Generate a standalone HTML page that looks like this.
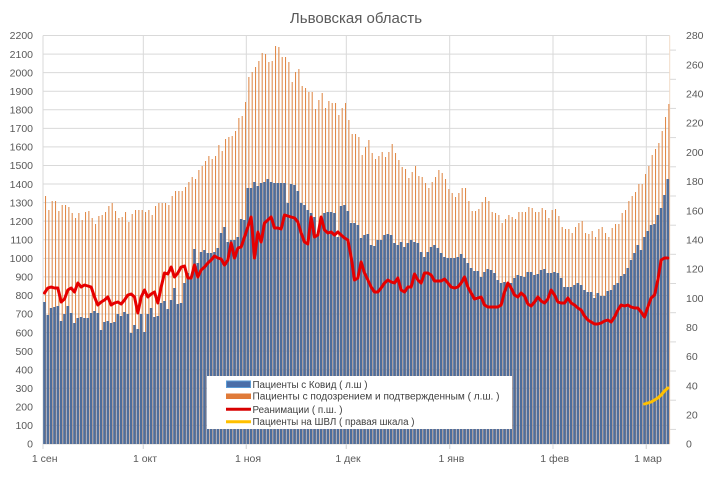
<!DOCTYPE html>
<html><head><meta charset="utf-8"><style>
html,body{margin:0;padding:0;background:#fff;}
svg{display:block;font-family:"Liberation Sans",Arial,sans-serif;}
</style></head><body>
<svg width="713" height="477" viewBox="0 0 713 477" xmlns="http://www.w3.org/2000/svg">
<rect width="713" height="477" fill="#fff"/>
<text x="356" y="23" font-size="15" fill="#595959" text-anchor="middle">Львовская область</text>
<g stroke="#d9d9d9" stroke-width="1">
<line x1="43" x2="669.7" y1="444" y2="444"/>
<line x1="43" x2="669.7" y1="425.43" y2="425.43"/>
<line x1="43" x2="669.7" y1="406.86" y2="406.86"/>
<line x1="43" x2="669.7" y1="388.3" y2="388.3"/>
<line x1="43" x2="669.7" y1="369.73" y2="369.73"/>
<line x1="43" x2="669.7" y1="351.16" y2="351.16"/>
<line x1="43" x2="669.7" y1="332.59" y2="332.59"/>
<line x1="43" x2="669.7" y1="314.02" y2="314.02"/>
<line x1="43" x2="669.7" y1="295.45" y2="295.45"/>
<line x1="43" x2="669.7" y1="276.89" y2="276.89"/>
<line x1="43" x2="669.7" y1="258.32" y2="258.32"/>
<line x1="43" x2="669.7" y1="239.75" y2="239.75"/>
<line x1="43" x2="669.7" y1="221.18" y2="221.18"/>
<line x1="43" x2="669.7" y1="202.61" y2="202.61"/>
<line x1="43" x2="669.7" y1="184.05" y2="184.05"/>
<line x1="43" x2="669.7" y1="165.48" y2="165.48"/>
<line x1="43" x2="669.7" y1="146.91" y2="146.91"/>
<line x1="43" x2="669.7" y1="128.34" y2="128.34"/>
<line x1="43" x2="669.7" y1="109.77" y2="109.77"/>
<line x1="43" x2="669.7" y1="91.2" y2="91.2"/>
<line x1="43" x2="669.7" y1="72.64" y2="72.64"/>
<line x1="43" x2="669.7" y1="54.07" y2="54.07"/>
<line x1="43" x2="669.7" y1="35.5" y2="35.5"/>
<line x1="43" x2="43" y1="35.5" y2="449"/>
<line x1="143.3" x2="143.3" y1="35.5" y2="449"/>
<line x1="246.3" x2="246.3" y1="35.5" y2="449"/>
<line x1="346.3" x2="346.3" y1="35.5" y2="449"/>
<line x1="449.7" x2="449.7" y1="35.5" y2="449"/>
<line x1="553" x2="553" y1="35.5" y2="449"/>
<line x1="646.3" x2="646.3" y1="35.5" y2="449"/>
</g>
<g stroke="#d9d9d9" stroke-width="1">
<line x1="669.7" x2="676" y1="429.4" y2="429.4"/>
<line x1="669.7" x2="676" y1="400.2" y2="400.2"/>
<line x1="669.7" x2="676" y1="371" y2="371"/>
<line x1="669.7" x2="676" y1="341.9" y2="341.9"/>
<line x1="669.7" x2="676" y1="312.7" y2="312.7"/>
<line x1="669.7" x2="676" y1="283.5" y2="283.5"/>
<line x1="669.7" x2="676" y1="254.3" y2="254.3"/>
<line x1="669.7" x2="676" y1="225.2" y2="225.2"/>
<line x1="669.7" x2="676" y1="196" y2="196"/>
<line x1="669.7" x2="676" y1="166.8" y2="166.8"/>
<line x1="669.7" x2="676" y1="137.6" y2="137.6"/>
<line x1="669.7" x2="676" y1="108.4" y2="108.4"/>
<line x1="669.7" x2="676" y1="79.3" y2="79.3"/>
<line x1="669.7" x2="676" y1="50.1" y2="50.1"/>
</g>
<line x1="669.7" x2="669.7" y1="35.5" y2="444" stroke="#f2dcc8" stroke-width="1"/>

<g transform="translate(43,0) scale(3.33333,1)">
<path fill="#e08a4a" d="M0.6 196h.32V444h-.32zM1.6 210h.32V444h-.32zM2.6 201h.32V444h-.32zM3.6 201h.32V444h-.32zM4.6 211h.32V444h-.32zM5.6 205h.32V444h-.32zM6.6 205h.32V444h-.32zM7.6 207h.32V444h-.32zM8.6 213h.32V444h-.32zM9.6 218h.32V444h-.32zM10.6 213h.32V444h-.32zM11.6 220h.32V444h-.32zM12.6 212h.32V444h-.32zM13.6 211h.32V444h-.32zM14.6 218h.32V444h-.32zM15.6 224h.32V444h-.32zM16.6 216h.32V444h-.32zM17.6 215h.32V444h-.32zM18.6 212h.32V444h-.32zM19.6 206h.32V444h-.32zM20.6 203h.32V444h-.32zM21.6 211h.32V444h-.32zM22.6 218h.32V444h-.32zM23.6 217h.32V444h-.32zM24.6 212h.32V444h-.32zM25.6 222h.32V444h-.32zM26.6 214h.32V444h-.32zM27.6 210h.32V444h-.32zM28.6 210h.32V444h-.32zM29.6 210h.32V444h-.32zM30.6 212h.32V444h-.32zM31.6 210h.32V444h-.32zM32.6 215h.32V444h-.32zM33.6 206h.32V444h-.32zM34.6 203h.32V444h-.32zM35.6 203h.32V444h-.32zM36.6 203h.32V444h-.32zM37.6 205h.32V444h-.32zM38.6 196h.32V444h-.32zM39.6 191h.32V444h-.32zM40.6 191h.32V444h-.32zM41.6 191h.32V444h-.32zM42.6 187h.32V444h-.32zM43.6 182h.32V444h-.32zM44.6 177h.32V444h-.32zM45.6 179h.32V444h-.32zM46.6 170h.32V444h-.32zM47.6 166h.32V444h-.32zM48.6 161h.32V444h-.32zM49.6 156h.32V444h-.32zM50.6 159h.32V444h-.32zM51.6 156h.32V444h-.32zM52.6 145h.32V444h-.32zM53.6 151h.32V444h-.32zM54.6 139h.32V444h-.32zM55.6 137h.32V444h-.32zM56.6 136h.32V444h-.32zM57.6 131h.32V444h-.32zM58.6 118h.32V444h-.32zM59.6 116h.32V444h-.32zM60.6 102h.32V444h-.32zM61.6 77h.32V444h-.32zM62.6 72h.32V444h-.32zM63.6 67h.32V444h-.32zM64.6 61h.32V444h-.32zM65.6 53h.32V444h-.32zM66.6 54h.32V444h-.32zM67.6 62h.32V444h-.32zM68.6 61h.32V444h-.32zM69.6 46h.32V444h-.32zM70.6 47h.32V444h-.32zM71.6 57h.32V444h-.32zM72.6 57h.32V444h-.32zM73.6 62h.32V444h-.32zM74.6 82h.32V444h-.32zM75.6 72h.32V444h-.32zM76.6 69h.32V444h-.32zM77.6 86h.32V444h-.32zM78.6 88h.32V444h-.32zM79.6 92h.32V444h-.32zM80.6 92h.32V444h-.32zM81.6 109h.32V444h-.32zM82.6 100h.32V444h-.32zM83.6 93h.32V444h-.32zM84.6 108h.32V444h-.32zM85.6 101h.32V444h-.32zM86.6 103h.32V444h-.32zM87.6 103h.32V444h-.32zM88.6 115h.32V444h-.32zM89.6 108h.32V444h-.32zM90.6 103h.32V444h-.32zM91.6 120h.32V444h-.32zM92.6 134h.32V444h-.32zM93.6 134h.32V444h-.32zM94.6 137h.32V444h-.32zM95.6 155h.32V444h-.32zM96.6 147h.32V444h-.32zM97.6 140h.32V444h-.32zM98.6 153h.32V444h-.32zM99.6 159h.32V444h-.32zM100.6 156h.32V444h-.32zM101.6 152h.32V444h-.32zM102.6 157h.32V444h-.32zM103.6 152h.32V444h-.32zM104.6 144h.32V444h-.32zM105.6 153h.32V444h-.32zM106.6 160h.32V444h-.32zM107.6 167h.32V444h-.32zM108.6 169h.32V444h-.32zM109.6 178h.32V444h-.32zM110.6 172h.32V444h-.32zM111.6 166h.32V444h-.32zM112.6 176h.32V444h-.32zM113.6 177h.32V444h-.32zM114.6 183h.32V444h-.32zM115.6 188h.32V444h-.32zM116.6 182h.32V444h-.32zM117.6 177h.32V444h-.32zM118.6 170h.32V444h-.32zM119.6 173h.32V444h-.32zM120.6 179h.32V444h-.32zM121.6 189h.32V444h-.32zM122.6 193h.32V444h-.32zM123.6 197h.32V444h-.32zM124.6 193h.32V444h-.32zM125.6 188h.32V444h-.32zM126.6 188h.32V444h-.32zM127.6 201h.32V444h-.32zM128.6 211h.32V444h-.32zM129.6 211h.32V444h-.32zM130.6 209h.32V444h-.32zM131.6 202h.32V444h-.32zM132.6 197h.32V444h-.32zM133.6 201h.32V444h-.32zM134.6 212h.32V444h-.32zM135.6 213h.32V444h-.32zM136.6 215h.32V444h-.32zM137.6 223h.32V444h-.32zM138.6 219h.32V444h-.32zM139.6 215h.32V444h-.32zM140.6 217h.32V444h-.32zM141.6 219h.32V444h-.32zM142.6 212h.32V444h-.32zM143.6 212h.32V444h-.32zM144.6 212h.32V444h-.32zM145.6 207h.32V444h-.32zM146.6 208h.32V444h-.32zM147.6 212h.32V444h-.32zM148.6 212h.32V444h-.32zM149.6 208h.32V444h-.32zM150.6 210h.32V444h-.32zM151.6 218h.32V444h-.32zM152.6 210h.32V444h-.32zM153.6 209h.32V444h-.32zM154.6 216h.32V444h-.32zM155.6 227h.32V444h-.32zM156.6 229h.32V444h-.32zM157.6 229h.32V444h-.32zM158.6 233h.32V444h-.32zM159.6 227h.32V444h-.32zM160.6 223h.32V444h-.32zM161.6 221h.32V444h-.32zM162.6 233h.32V444h-.32zM163.6 234h.32V444h-.32zM164.6 231h.32V444h-.32zM165.6 237h.32V444h-.32zM166.6 229h.32V444h-.32zM167.6 227h.32V444h-.32zM168.6 233h.32V444h-.32zM169.6 237h.32V444h-.32zM170.6 228h.32V444h-.32zM171.6 224h.32V444h-.32zM172.6 224h.32V444h-.32zM173.6 213h.32V444h-.32zM174.6 210h.32V444h-.32zM175.6 201h.32V444h-.32zM176.6 196h.32V444h-.32zM177.6 192h.32V444h-.32zM178.6 184h.32V444h-.32zM179.6 184h.32V444h-.32zM180.6 174h.32V444h-.32zM181.6 166h.32V444h-.32zM182.6 155h.32V444h-.32zM183.6 149h.32V444h-.32zM184.6 143h.32V444h-.32zM185.6 131h.32V444h-.32zM186.6 117h.32V444h-.32zM187.6 104h.32V444h-.32z"/>
<path fill="#4e6e9c" d="M0.05 302h.78V444h-.78zM1.05 315h.78V444h-.78zM2.05 308h.78V444h-.78zM3.05 307h.78V444h-.78zM4.05 306h.78V444h-.78zM5.05 321h.78V444h-.78zM6.05 314h.78V444h-.78zM7.05 306h.78V444h-.78zM8.05 313h.78V444h-.78zM9.05 323h.78V444h-.78zM10.05 318h.78V444h-.78zM11.05 317h.78V444h-.78zM12.05 318h.78V444h-.78zM13.05 318h.78V444h-.78zM14.05 313h.78V444h-.78zM15.05 311h.78V444h-.78zM16.05 313h.78V444h-.78zM17.05 330h.78V444h-.78zM18.05 322h.78V444h-.78zM19.05 321h.78V444h-.78zM20.05 323h.78V444h-.78zM21.05 322h.78V444h-.78zM22.05 314h.78V444h-.78zM23.05 316h.78V444h-.78zM24.05 312h.78V444h-.78zM25.05 314h.78V444h-.78zM26.05 333h.78V444h-.78zM27.05 325h.78V444h-.78zM28.05 329h.78V444h-.78zM29.05 314h.78V444h-.78zM30.05 332h.78V444h-.78zM31.05 314h.78V444h-.78zM32.05 308h.78V444h-.78zM33.05 317h.78V444h-.78zM34.05 316h.78V444h-.78zM35.05 303h.78V444h-.78zM36.05 301h.78V444h-.78zM37.05 309h.78V444h-.78zM38.05 300h.78V444h-.78zM39.05 288h.78V444h-.78zM40.05 304h.78V444h-.78zM41.05 303h.78V444h-.78zM42.05 283h.78V444h-.78zM43.05 273h.78V444h-.78zM44.05 278h.78V444h-.78zM45.05 249h.78V444h-.78zM46.05 263h.78V444h-.78zM47.05 252h.78V444h-.78zM48.05 250h.78V444h-.78zM49.05 253h.78V444h-.78zM50.05 253h.78V444h-.78zM51.05 252h.78V444h-.78zM52.05 248h.78V444h-.78zM53.05 233h.78V444h-.78zM54.05 227h.78V444h-.78zM55.05 242h.78V444h-.78zM56.05 240h.78V444h-.78zM57.05 240h.78V444h-.78zM58.05 237h.78V444h-.78zM59.05 219h.78V444h-.78zM60.05 220h.78V444h-.78zM61.05 188h.78V444h-.78zM62.05 188h.78V444h-.78zM63.05 182h.78V444h-.78zM64.05 186h.78V444h-.78zM65.05 183h.78V444h-.78zM66.05 182h.78V444h-.78zM67.05 179h.78V444h-.78zM68.05 182h.78V444h-.78zM69.05 183h.78V444h-.78zM70.05 183h.78V444h-.78zM71.05 183h.78V444h-.78zM72.05 183h.78V444h-.78zM73.05 203h.78V444h-.78zM74.05 184h.78V444h-.78zM75.05 185h.78V444h-.78zM76.05 191h.78V444h-.78zM77.05 203h.78V444h-.78zM78.05 205h.78V444h-.78zM79.05 210h.78V444h-.78zM80.05 213h.78V444h-.78zM81.05 217h.78V444h-.78zM82.05 235h.78V444h-.78zM83.05 223h.78V444h-.78zM84.05 213h.78V444h-.78zM85.05 212h.78V444h-.78zM86.05 212h.78V444h-.78zM87.05 213h.78V444h-.78zM88.05 237h.78V444h-.78zM89.05 206h.78V444h-.78zM90.05 205h.78V444h-.78zM91.05 211h.78V444h-.78zM92.05 223h.78V444h-.78zM93.05 223h.78V444h-.78zM94.05 225h.78V444h-.78zM95.05 238h.78V444h-.78zM96.05 235h.78V444h-.78zM97.05 234h.78V444h-.78zM98.05 245h.78V444h-.78zM99.05 246h.78V444h-.78zM100.05 240h.78V444h-.78zM101.05 240h.78V444h-.78zM102.05 235h.78V444h-.78zM103.05 234h.78V444h-.78zM104.05 235h.78V444h-.78zM105.05 243h.78V444h-.78zM106.05 245h.78V444h-.78zM107.05 242h.78V444h-.78zM108.05 247h.78V444h-.78zM109.05 243h.78V444h-.78zM110.05 240h.78V444h-.78zM111.05 242h.78V444h-.78zM112.05 243h.78V444h-.78zM113.05 252h.78V444h-.78zM114.05 257h.78V444h-.78zM115.05 252h.78V444h-.78zM116.05 247h.78V444h-.78zM117.05 245h.78V444h-.78zM118.05 248h.78V444h-.78zM119.05 253h.78V444h-.78zM120.05 257h.78V444h-.78zM121.05 258h.78V444h-.78zM122.05 258h.78V444h-.78zM123.05 258h.78V444h-.78zM124.05 257h.78V444h-.78zM125.05 254h.78V444h-.78zM126.05 258h.78V444h-.78zM127.05 263h.78V444h-.78zM128.05 268h.78V444h-.78zM129.05 271h.78V444h-.78zM130.05 271h.78V444h-.78zM131.05 277h.78V444h-.78zM132.05 272h.78V444h-.78zM133.05 269h.78V444h-.78zM134.05 270h.78V444h-.78zM135.05 273h.78V444h-.78zM136.05 280h.78V444h-.78zM137.05 283h.78V444h-.78zM138.05 282h.78V444h-.78zM139.05 283h.78V444h-.78zM140.05 283h.78V444h-.78zM141.05 278h.78V444h-.78zM142.05 275h.78V444h-.78zM143.05 276h.78V444h-.78zM144.05 277h.78V444h-.78zM145.05 272h.78V444h-.78zM146.05 272h.78V444h-.78zM147.05 275h.78V444h-.78zM148.05 274h.78V444h-.78zM149.05 270h.78V444h-.78zM150.05 269h.78V444h-.78zM151.05 273h.78V444h-.78zM152.05 273h.78V444h-.78zM153.05 272h.78V444h-.78zM154.05 273h.78V444h-.78zM155.05 278h.78V444h-.78zM156.05 287h.78V444h-.78zM157.05 287h.78V444h-.78zM158.05 287h.78V444h-.78zM159.05 285h.78V444h-.78zM160.05 283h.78V444h-.78zM161.05 285h.78V444h-.78zM162.05 290h.78V444h-.78zM163.05 292h.78V444h-.78zM164.05 292h.78V444h-.78zM165.05 298h.78V444h-.78zM166.05 293h.78V444h-.78zM167.05 296h.78V444h-.78zM168.05 296h.78V444h-.78zM169.05 291h.78V444h-.78zM170.05 290h.78V444h-.78zM171.05 285h.78V444h-.78zM172.05 283h.78V444h-.78zM173.05 276h.78V444h-.78zM174.05 274h.78V444h-.78zM175.05 268h.78V444h-.78zM176.05 260h.78V444h-.78zM177.05 253h.78V444h-.78zM178.05 245h.78V444h-.78zM179.05 250h.78V444h-.78zM180.05 237h.78V444h-.78zM181.05 231h.78V444h-.78zM182.05 225h.78V444h-.78zM183.05 224h.78V444h-.78zM184.05 215h.78V444h-.78zM185.05 208h.78V444h-.78zM186.05 195h.78V444h-.78zM187.05 179h.78V444h-.78z"/>
<polyline fill="none" stroke="#e60000" stroke-width="3" stroke-linejoin="round" stroke-linecap="round" vector-effect="non-scaling-stroke" points="0.45 293 1.45 288 2.45 287 3.45 288 4.45 288 5.45 302 6.45 299 7.45 290 8.45 288 9.45 292 10.45 283 11.45 287 12.45 285 13.45 286 14.45 287 15.45 297 16.45 305 17.45 302 18.45 300 19.45 297 20.45 305 21.45 303 22.45 302 23.45 304 24.45 300 25.45 295 26.45 294 27.45 297 28.45 313 29.45 297 30.45 290 31.45 297 32.45 294 33.45 292 34.45 303 35.45 287 36.45 273 37.45 274 38.45 267 39.45 277 40.45 273 41.45 267 42.45 266 43.45 278 44.45 278 45.45 265 46.45 277 47.45 270 48.45 267 49.45 263 50.45 260 51.45 256 52.45 258 53.45 259 54.45 265 55.45 260 56.45 243 57.45 258 58.45 248 59.45 247 60.45 237 61.45 227 62.45 217 63.45 258 64.45 232 65.45 242 66.45 223 67.45 220 68.45 217 69.45 228 70.45 228 71.45 229 72.45 215 73.45 216 74.45 217 75.45 218 76.45 222 77.45 233 78.45 242 79.45 244 80.45 217 81.45 237 82.45 235 83.45 217 84.45 230 85.45 233 86.45 232 87.45 235 88.45 232 89.45 235 90.45 238 91.45 240 92.45 257 93.45 280 94.45 278 95.45 262 96.45 273 97.45 280 98.45 287 99.45 292 100.45 292 101.45 288 102.45 283 103.45 280 104.45 282 105.45 283 106.45 278 107.45 290 108.45 292 109.45 287 110.45 287 111.45 274 112.45 280 113.45 283 114.45 273 115.45 273 116.45 275 117.45 281 118.45 281 119.45 281 120.45 279 121.45 283 122.45 287 123.45 288 124.45 287 125.45 283 126.45 277 127.45 287 128.45 293 129.45 299 130.45 298 131.45 297 132.45 305 133.45 307 134.45 307 135.45 307 136.45 307 137.45 305 138.45 292 139.45 283 140.45 288 141.45 295 142.45 297 143.45 293 144.45 296 145.45 304 146.45 306 147.45 302 148.45 297 149.45 301 150.45 303 151.45 299 152.45 290 153.45 295 154.45 302 155.45 303 156.45 303 157.45 298 158.45 303 159.45 305 160.45 308 161.45 310 162.45 316 163.45 320 164.45 322 165.45 324 166.45 324 167.45 323 168.45 321 169.45 320 170.45 322 171.45 317 172.45 310 173.45 305 174.45 306 175.45 305 176.45 307 177.45 308 178.45 308 179.45 312 180.45 317 181.45 307 182.45 298 183.45 295 184.45 280 185.45 260 186.45 258 187.45 258"/>
<polyline fill="none" stroke="#ffc000" stroke-width="3" stroke-linejoin="round" stroke-linecap="round" vector-effect="non-scaling-stroke" points="180.45 404 181.45 403 182.45 402 183.45 400 184.45 398 185.45 395 186.45 391 187.45 388"/>
</g>

<g stroke="#d9d9d9" stroke-width="1">
<line x1="43" x2="43" y1="444" y2="449"/>
<line x1="143.3" x2="143.3" y1="444" y2="449"/>
<line x1="246.3" x2="246.3" y1="444" y2="449"/>
<line x1="346.3" x2="346.3" y1="444" y2="449"/>
<line x1="449.7" x2="449.7" y1="444" y2="449"/>
<line x1="553" x2="553" y1="444" y2="449"/>
<line x1="646.3" x2="646.3" y1="444" y2="449"/>
</g>

<g font-size="10.5" fill="#595959" text-anchor="end">
<text x="33" y="447.7">0</text>
<text x="33" y="429.1">100</text>
<text x="33" y="410.6">200</text>
<text x="33" y="392">300</text>
<text x="33" y="373.4">400</text>
<text x="33" y="354.9">500</text>
<text x="33" y="336.3">600</text>
<text x="33" y="317.7">700</text>
<text x="33" y="299.2">800</text>
<text x="33" y="280.6">900</text>
<text x="33" y="262">1000</text>
<text x="33" y="243.5">1100</text>
<text x="33" y="224.9">1200</text>
<text x="33" y="206.3">1300</text>
<text x="33" y="187.8">1400</text>
<text x="33" y="169.2">1500</text>
<text x="33" y="150.6">1600</text>
<text x="33" y="132">1700</text>
<text x="33" y="113.5">1800</text>
<text x="33" y="94.9">1900</text>
<text x="33" y="76.3">2000</text>
<text x="33" y="57.8">2100</text>
<text x="33" y="39.2">2200</text>
</g>
<g font-size="10.5" fill="#595959" text-anchor="start">
<text x="686" y="447.7">0</text>
<text x="686" y="418.5">20</text>
<text x="686" y="389.3">40</text>
<text x="686" y="360.2">60</text>
<text x="686" y="331">80</text>
<text x="686" y="301.8">100</text>
<text x="686" y="272.6">120</text>
<text x="686" y="243.5">140</text>
<text x="686" y="214.3">160</text>
<text x="686" y="185.1">180</text>
<text x="686" y="155.9">200</text>
<text x="686" y="126.7">220</text>
<text x="686" y="97.6">240</text>
<text x="686" y="68.4">260</text>
<text x="686" y="39.2">280</text>
</g>
<g font-size="10.5" fill="#595959" text-anchor="middle">
<text x="44.7" y="462">1 сен</text>
<text x="145" y="462">1 окт</text>
<text x="248" y="462">1 ноя</text>
<text x="348" y="462">1 дек</text>
<text x="451.4" y="462">1 янв</text>
<text x="554.7" y="462">1 фев</text>
<text x="648" y="462">1 мар</text>
</g>

<rect x="207" y="376" width="305" height="53" fill="#fff"/>
<rect x="226.5" y="381" width="24" height="6.5" fill="#4a6ea8" stroke="#5b9bd5" stroke-width="1"/>
<rect x="226" y="393.5" width="25" height="5.5" fill="#e07b39"/>
<line x1="226" x2="251" y1="409.3" y2="409.3" stroke="#d80000" stroke-width="3"/>
<line x1="226" x2="251" y1="421.7" y2="421.7" stroke="#ffc000" stroke-width="3"/>
<g font-size="10" fill="#404040">
<text x="252.5" y="387.8" textLength="115" lengthAdjust="spacingAndGlyphs">Пациенты с Ковид ( л.ш )</text>
<text x="252.5" y="399.6" textLength="247" lengthAdjust="spacingAndGlyphs">Пациенты с подозрением и подтвержденным ( л.ш. )</text>
<text x="252.5" y="412.8" textLength="90" lengthAdjust="spacingAndGlyphs">Реанимации ( п.ш. )</text>
<text x="252.5" y="425.2" textLength="162" lengthAdjust="spacingAndGlyphs">Пациенты на ШВЛ ( правая шкала )</text>
</g>
</svg>
</body></html>
